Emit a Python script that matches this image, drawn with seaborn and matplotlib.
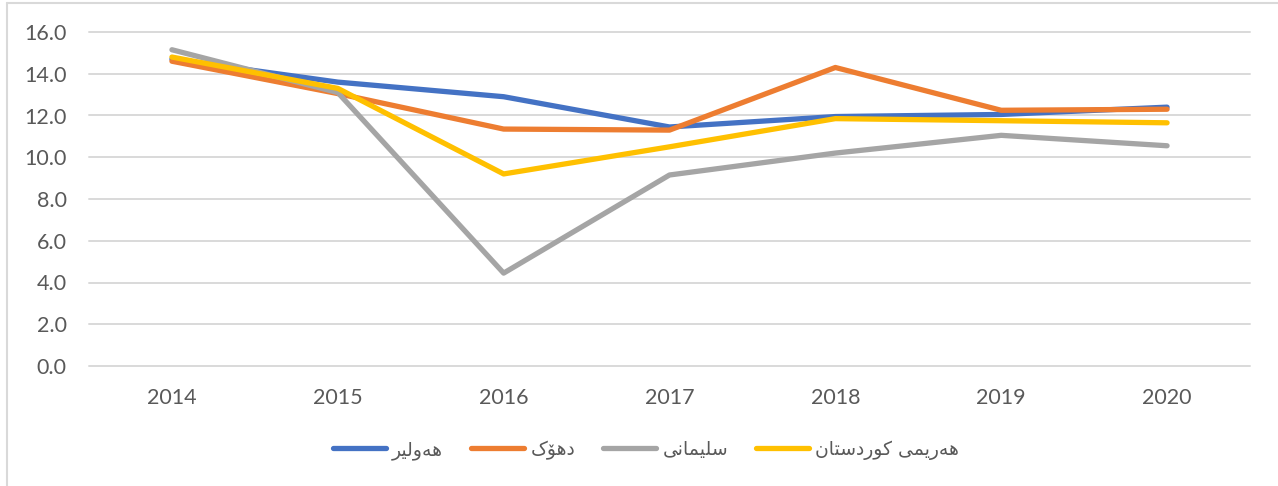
import pandas as pd
import matplotlib.pyplot as plt
import seaborn as sns
from matplotlib.lines import Line2D

sns.set_theme(style="white")
plt.switch_backend('Agg')

# ── data ─────────────────────────────────────────────────────────────────────
YEARS = [2014, 2015, 2016, 2017, 2018, 2019, 2020]
REGIONS = ['هەولێر', 'دهۆک', 'سلێمانی', 'هەرێمی کوردستان']
ERBIL = [14.7, 13.6, 12.9, 11.45, 11.95, 12.05, 12.4]
DUHOK = [14.6, 13.05, 11.35, 11.3, 14.3, 12.25, 12.3]
SULAIMANI = [15.15, 13.1, 4.45, 9.15, 10.2, 11.05, 10.55]
KURDISTAN = [14.8, 13.3, 9.2, 10.5, 11.85, 11.75, 11.65]
Y_TICKS = [0, 2, 4, 6, 8, 10, 12, 14, 16]

COLORS = ['#4472C4', '#ED7D31', '#A5A5A5', '#FFC000']

# ── minimal arabic-script shaping (matplotlib lays glyphs out one by one) ──
# type D joins both sides, R joins only to the previous letter
# forms: isolated, final, initial, medial
FORMS = {
    'ه': ('D', ('\uFEE9', '\uFEEA', '\uFEEB', '\uFEEC')),
    'ە': ('R', ('\u06D5', '\uFEEA')),
    'و': ('R', ('\uFEED', '\uFEEE')),
    'ل': ('D', ('\uFEDD', '\uFEDE', '\uFEDF', '\uFEE0')),
    'ێ': ('D', ('\u06CE', '\u06CE', '\uFBFE', '\uFBFF')),
    'ر': ('R', ('\uFEAD', '\uFEAE')),
    'د': ('R', ('\uFEA9', '\uFEAA')),
    'ۆ': ('R', ('\uFBD9', '\uFBDA')),
    'ک': ('D', ('\uFB8E', '\uFB8F', '\uFB90', '\uFB91')),
    'س': ('D', ('\uFEB1', '\uFEB2', '\uFEB3', '\uFEB4')),
    'م': ('D', ('\uFEE1', '\uFEE2', '\uFEE3', '\uFEE4')),
    'ا': ('R', ('\uFE8D', '\uFE8E')),
    'ن': ('D', ('\uFEE5', '\uFEE6', '\uFEE7', '\uFEE8')),
    'ی': ('D', ('\uFBFC', '\uFBFD', '\uFBFE', '\uFBFF')),
    'ت': ('D', ('\uFE95', '\uFE96', '\uFE97', '\uFE98')),
}


def shape(text):
    out = []
    for i, c in enumerate(text):
        if c not in FORMS:
            out.append(c)
            continue
        kind, f = FORMS[c]
        prev = text[i - 1] if i > 0 else None
        nxt = text[i + 1] if i + 1 < len(text) else None
        join_prev = prev in FORMS and FORMS[prev][0] == 'D'
        join_next = kind == 'D' and nxt in FORMS
        if join_prev and join_next:
            g = f[3]
        elif join_prev:
            g = f[1]
        elif join_next:
            g = f[2]
        else:
            g = f[0]
        out.append(g)
    return ''.join(reversed(out))


df = pd.DataFrame({
    'year': YEARS * 4,
    'value': ERBIL + DUHOK + SULAIMANI + KURDISTAN,
    'region': [r for r in REGIONS for _ in YEARS],
})

# ── figure ───────────────────────────────────────────────────────────────────
W, H = 1278, 486
fig = plt.figure(figsize=(W / 100, H / 100), dpi=100)
ax = fig.add_axes([89 / W, 1 - 366 / H, (1250 - 89) / W, (366 - 32) / H])

sns.lineplot(data=df, x='year', y='value', hue='region', hue_order=REGIONS,
             palette=COLORS, linewidth=3.8, solid_capstyle='round',
             solid_joinstyle='round', legend=False, ax=ax)

ax.set_xlim(2013.5, 2020.5)
ax.set_ylim(0, 16)
ax.set_xticks(YEARS)
ax.set_xticklabels([str(y) for y in YEARS])
ax.set_yticks(Y_TICKS)
ax.set_yticklabels([f'{v:.1f}' for v in Y_TICKS])
ax.set_xlabel('')
ax.set_ylabel('')
for s in ax.spines.values():
    s.set_visible(False)
ax.yaxis.grid(True, color='#D9D9D9', linewidth=1.4)
ax.xaxis.grid(False)
ax.set_axisbelow(True)
for gl in ax.yaxis.get_gridlines():
    gl.set_clip_on(False)
ax.tick_params(axis='both', length=0, labelsize=15.5, labelcolor='#595959')
ax.tick_params(axis='y', pad=16)
ax.tick_params(axis='x', pad=16)
for lab in ax.get_xticklabels() + ax.get_yticklabels():
    lab.set_family('Lato')

handles = [Line2D([], [], color=c, linewidth=3.8, solid_capstyle='round')
           for c in COLORS]
fig.legend(handles, [shape(r) for r in REGIONS], loc='center',
           bbox_to_anchor=(646 / W, 1 - 450 / H), ncol=4, frameon=False,
           prop={'family': ['DejaVu Sans'], 'size': 13.5},
           handlelength=2.8, handletextpad=0.35, columnspacing=1.5,
           labelcolor='#595959')

# chart border (left and top edges visible)
fig.add_artist(Line2D([6.5 / W, 6.5 / W], [0, 1 - 3.5 / H],
                      transform=fig.transFigure, color='#D9D9D9', lw=1.5))
fig.add_artist(Line2D([6.5 / W, 1], [1 - 3.5 / H, 1 - 3.5 / H],
                      transform=fig.transFigure, color='#D9D9D9', lw=1.5))

fig.savefig('out.png', dpi=100, facecolor='white')
